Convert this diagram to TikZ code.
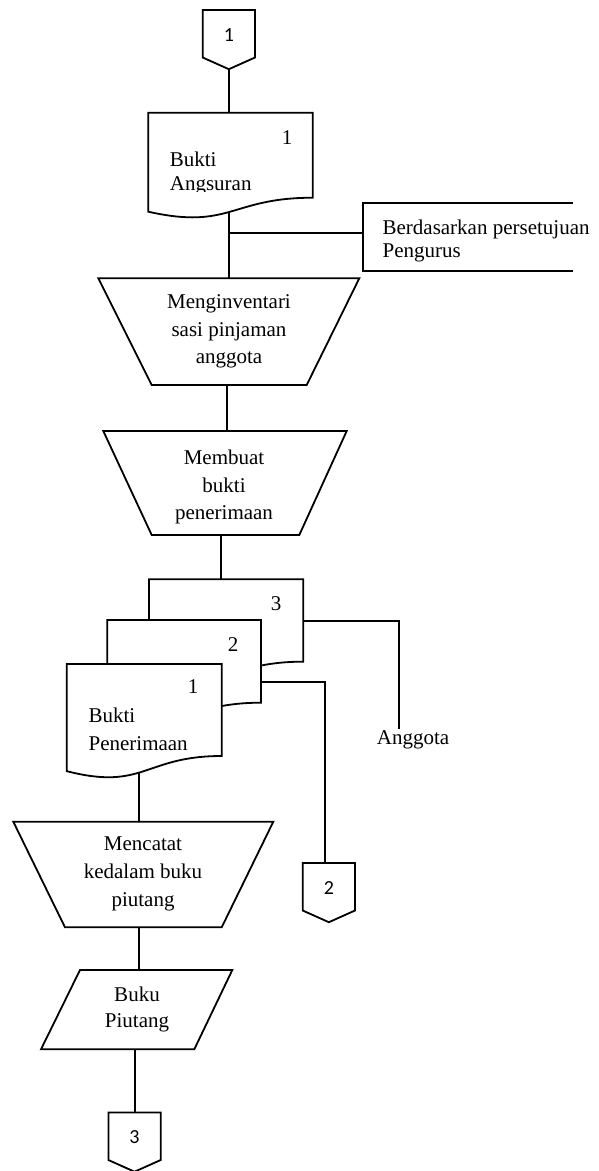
\documentclass[tikz,border=0pt]{standalone}
\usepackage{fontspec}
\setmainfont{Liberation Serif}
\newfontfamily\numfont{Carlito}
% document shape: left, top, width, total height
\newcommand\docshape[4]{\draw[shp] (#1,#2) -- ({#1+#3},#2) -- ({#1+#3},{#2+0.802*#4}) .. controls ({#1+0.5*#3},{#2+0.802*#4}) and ({#1+0.5*#3},{#2+1.1075*#4}) .. (#1,{#2+0.934*#4}) -- cycle;}
% off-page connector: name, left, top, text
\newcommand\offpage[4]{\draw[shp] (#2,#3) -- ++(52.3,0) -- ++(0,47.5) -- ++(-26.15,11.7) -- ++(-26.15,-11.7) -- cycle;
  \node[num] (#1) at ({#2+26.15},{#3+25}) {#4};}
\begin{document}
\begin{tikzpicture}[x=1pt,y=-1pt,line width=1.8pt,
  shp/.style={draw,fill=white,line join=miter},
  link/.style={draw},
  lbl/.style={font=\fontsize{21}{27.7}\selectfont,inner sep=0pt,align=center},
  num/.style={font=\fontsize{20}{20}\numfont,inner sep=0pt}]
\useasboundingbox (0,0) rectangle (598,1171);
% ---- connection points
\coordinate (c1b) at (229.3,68);
\coordinate (d1t) at (229.3,113);
\coordinate (d1b) at (229.3,205);
\coordinate (t1t) at (229.3,279);
\coordinate (br) at (229.3,232.7);
\coordinate (annl) at (363.3,232.7);
\coordinate (t1b) at (226.7,384);
\coordinate (t2t) at (226.7,432);
\coordinate (t2b) at (221,534);
\coordinate (d3t) at (221,580);
\coordinate (d3r) at (303.3,620.7);
\coordinate (angtop) at (399,729.3);
\coordinate (d2r) at (261,682.3);
\coordinate (c2t) at (325,863);
\coordinate (s1b) at (139.3,765);
\coordinate (t3t) at (139.3,822);
\coordinate (t3b) at (139.3,926);
\coordinate (pt) at (139.3,971);
\coordinate (pb) at (135,1048);
\coordinate (c3t) at (135,1113);
% ---- connectors
\draw[link] (c1b) -- (d1t);
\draw[link] (d1b) -- (t1t);
\draw[link] (br) -- (annl);
\draw[link] (t1b) -- (t2t);
\draw[link] (t2b) -- (d3t);
\draw[link] (d3r) -| (angtop);
\draw[link] (d2r) -| (c2t);
\draw[link] (s1b) -- (t3t);
\draw[link] (t3b) -- (pt);
\draw[link] (pb) -- (c3t);
% ---- annotation bracket
\draw[link] (573,203.3) -- (363.3,203.3) -- (363.3,270.7) -- (573,270.7);
\node[lbl,anchor=west,align=left,font=\fontsize{21}{23}\selectfont] (ann) at (381.7,241) {Berdasarkan persetujuan\\Pengurus};
% ---- off-page connectors
\offpage{n1}{202.7}{10}{1}
\offpage{n2}{302.7}{863}{2}
\offpage{n3}{108.4}{1112.5}{3}
% ---- Bukti Angsuran document
\docshape{148.3}{112.7}{164.4}{106}
\node[lbl] (d1n) at (287,137.5) {1};
\begin{scope}
\clip (140,100) rectangle (320,191.7);
\node[lbl,anchor=west,align=left,font=\fontsize{21}{23.3}\selectfont] (d1txt) at (169,173.5) {Bukti\\Angsuran};
\end{scope}
% ---- trapezoid 1
\draw[shp] (98.3,278.3) -- (359.3,278.3) -- (306.7,385) -- (151.7,385) -- cycle;
\node[lbl] (p1) at (229,331.5) {Menginventari\\sasi pinjaman\\anggota};
% ---- trapezoid 2
\draw[shp] (103.3,431) -- (346.7,431) -- (299.3,535) -- (151.7,535) -- cycle;
\node[lbl] (p2) at (224,487) {Membuat\\bukti\\penerimaan};
% ---- stacked documents
\docshape{149}{579.3}{154.3}{102.7}
\docshape{107.3}{620}{153.7}{103.1}
\docshape{66.7}{664}{155}{114.7}
\node[lbl] (s3n) at (276,604) {3};
\node[lbl] (s2n) at (233,645) {2};
\node[lbl] (s1n) at (193,686.7) {1};
\node[lbl,anchor=west,align=left] (s1txt) at (87.7,729) {Bukti\\Penerimaan};
\node[lbl] (ang) at (413,740) {Anggota};
% ---- trapezoid 3
\draw[shp] (13.3,821.7) -- (273.3,821.7) -- (221.7,927.3) -- (65,927.3) -- cycle;
\node[lbl] (p3) at (143,874) {Mencatat\\kedalam buku\\piutang};
% ---- parallelogram
\draw[shp] (80,970) -- (232.3,970) -- (194.3,1049.3) -- (41,1049.3) -- cycle;
\node[lbl,font=\fontsize{21}{26}\selectfont] (buku) at (137,1009) {Buku\\Piutang};
\end{tikzpicture}
\end{document}
